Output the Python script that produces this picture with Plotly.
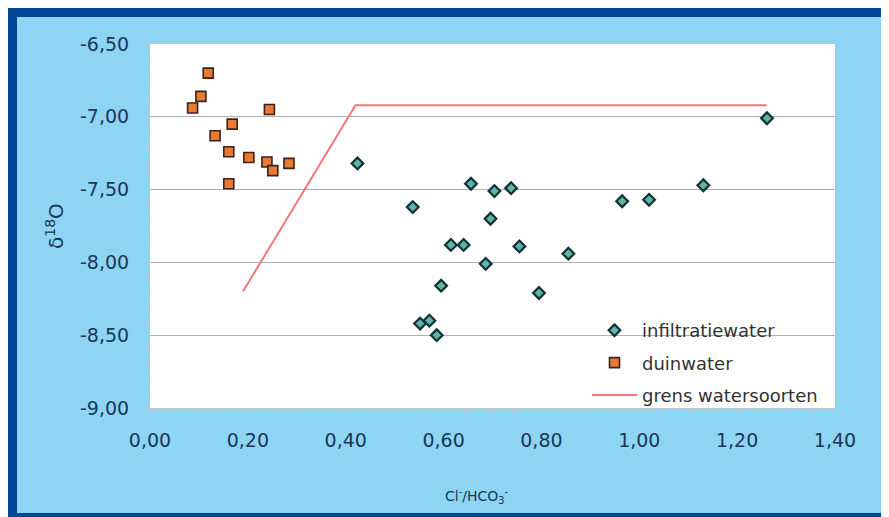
import plotly.graph_objects as go

# Data
infil_x = [0.424, 0.656, 0.704, 0.738, 0.537, 0.696, 0.615, 0.641, 0.755, 0.855,
           0.686, 0.595, 0.795, 0.552, 0.571, 0.586, 1.261, 1.131, 0.965, 1.020]
infil_y = [-7.32, -7.46, -7.51, -7.49, -7.62, -7.70, -7.88, -7.88, -7.89, -7.94,
           -8.01, -8.16, -8.21, -8.42, -8.40, -8.50, -7.01, -7.47, -7.58, -7.57]

duin_x = [0.119, 0.104, 0.087, 0.244, 0.168, 0.133, 0.161, 0.202, 0.239, 0.251, 0.284, 0.161]
duin_y = [-6.70, -6.86, -6.94, -6.95, -7.05, -7.13, -7.24, -7.28, -7.31, -7.37, -7.32, -7.46]

grens_x = [0.19, 0.42, 1.26]
grens_y = [-8.20, -6.92, -6.92]

x_ticks = [0.0, 0.2, 0.4, 0.6, 0.8, 1.0, 1.2, 1.4]
x_ticklabels = ["0,00", "0,20", "0,40", "0,60", "0,80", "1,00", "1,20", "1,40"]
y_ticks = [-9.0, -8.5, -8.0, -7.5, -7.0, -6.5]
y_ticklabels = ["-9,00", "-8,50", "-8,00", "-7,50", "-7,00", "-6,50"]

# page (screenshot) geometry; the page body adds an 8px offset
OFF = 8
PW, PH = 889, 517
W, H = PW - OFF, PH - OFF
L, R, T, B = 150, 835, 44, 408   # plot area in page pixels

def px(x):
    return (x - L) / (R - L)

def py(y):
    return (B - y) / (B - T)

TXT = "rgb(25,55,90)"
FONT = "DejaVu Sans"

fig = go.Figure()
fig.add_trace(go.Scatter(
    x=infil_x, y=infil_y, mode="markers", name="infiltratiewater",
    legendgroup="a",
    marker=dict(symbol="diamond", size=9, color="rgb(95,180,170)",
                line=dict(color="rgb(15,50,50)", width=2.2))))
fig.add_trace(go.Scatter(
    x=duin_x, y=duin_y, mode="markers", name="duinwater",
    legendgroup="b",
    marker=dict(symbol="square", size=10, color="rgb(232,122,52)",
                line=dict(color="rgb(60,35,25)", width=1.6))))
fig.add_trace(go.Scatter(
    x=grens_x, y=grens_y, mode="lines", name="grens watersoorten",
    legendgroup="c",
    line=dict(color="rgb(240,120,120)", width=2)))

shapes = []
def rect(x0, y0, x1, y1, color, layer="below"):
    shapes.append(dict(type="rect", xref="paper", yref="paper",
                       x0=px(x0), x1=px(x1), y0=py(y1), y1=py(y0),
                       fillcolor=color, line=dict(width=0), layer=layer))

DB = "rgb(0,72,150)"
rect(OFF, OFF, PW, 17, DB)
rect(OFF, OFF, 17, PH, DB)
rect(OFF, 513, PW, PH, DB)
# white legend backing over the gridline
rect(565, 312, 834, 407, "white", layer="between")

fig.update_layout(
    width=W, height=H,
    margin=dict(l=L - OFF, r=PW - R, t=T - OFF, b=PH - B),
    paper_bgcolor="rgb(142,212,243)",
    plot_bgcolor="white",
    font=dict(family=FONT, color=TXT),
    shapes=shapes,
    showlegend=True,
    legend=dict(x=px(587), y=py(312), xanchor="left", yanchor="top",
                bgcolor="rgba(255,255,255,0)", borderwidth=0,
                font=dict(family=FONT, size=18, color="rgb(50,50,50)"),
                itemwidth=45, tracegroupgap=6),
    annotations=[
        dict(text="δ<sup>18</sup>O", xref="paper", yref="paper",
             x=px(55), y=py(226), xanchor="center", yanchor="middle",
             textangle=-90, showarrow=False,
             font=dict(family=FONT, size=20, color=TXT)),
        dict(text="Cl<sup>-</sup>/HCO<sub>3</sub><sup>-</sup>", xref="paper", yref="paper",
             x=px(477), y=py(496), xanchor="center", yanchor="middle",
             showarrow=False,
             font=dict(family=FONT, size=14, color=TXT)),
    ],
)

fig.update_xaxes(
    range=[0, 1.4], tickvals=x_ticks, ticktext=x_ticklabels,
    showgrid=False, zeroline=False,
    showline=True, linecolor="rgb(190,195,200)", linewidth=1,
    ticks="outside", ticklen=4, tickcolor="rgb(190,195,200)",
    minor=dict(dtick=0.05, ticks="outside", ticklen=3, tickcolor="rgb(200,205,210)"),
    tickfont=dict(family=FONT, size=19, color=TXT),
    ticklabelstandoff=11,
)
fig.update_yaxes(
    range=[-9.0, -6.5], tickvals=y_ticks, ticktext=y_ticklabels,
    showgrid=True, gridcolor="rgb(175,175,175)", gridwidth=1,
    zeroline=False,
    showline=True, linecolor="rgb(190,195,200)", linewidth=1,
    ticks="outside", ticklen=4, tickcolor="rgb(190,195,200)",
    minor=dict(dtick=0.1, ticks="outside", ticklen=3, tickcolor="rgb(200,205,210)", showgrid=False),
    tickfont=dict(family=FONT, size=19, color=TXT),
    ticklabelstandoff=12,
)

fig.write_html("out.html")
